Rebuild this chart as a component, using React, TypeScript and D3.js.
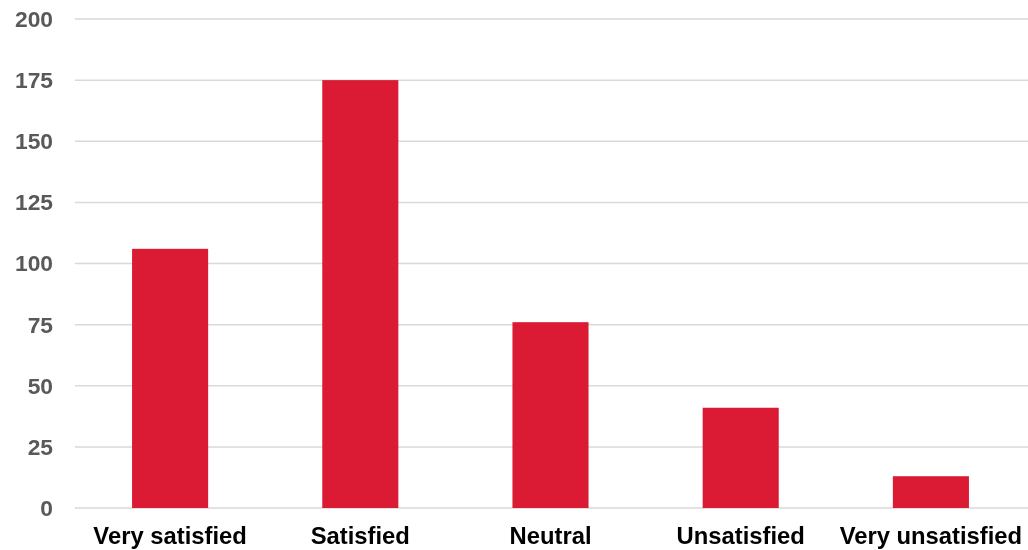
import { useEffect, useRef } from "react";
import * as d3 from "d3";

const categories = ["Very satisfied", "Satisfied", "Neutral", "Unsatisfied", "Very unsatisfied"];
const values = [106, 175, 76, 41, 13];
const yTicks = [0, 25, 50, 75, 100, 125, 150, 175, 200];

export default function App() {
  const ref = useRef<SVGSVGElement>(null);

  useEffect(() => {
    if (!ref.current) return;
    const w = 1028,
      h = 550,
      margin = { top: 19, right: 2, bottom: 42, left: 75 };

    const svg = d3.select(ref.current);
    svg.selectAll("*").remove();
    svg.attr("width", w).attr("height", h).style("display", "block");

    const x = d3
      .scaleBand<string>()
      .domain(categories)
      .range([margin.left, w - margin.right])
      .paddingInner(0.6)
      .paddingOuter(0.3);
    const y = d3.scaleLinear().domain([0, 200]).range([h - margin.bottom, margin.top]);

    const font = "'Liberation Sans', Arial, sans-serif";

    svg
      .append("g")
      .selectAll("line")
      .data(yTicks)
      .join("line")
      .attr("x1", margin.left)
      .attr("x2", w)
      .attr("y1", (d) => y(d))
      .attr("y2", (d) => y(d))
      .attr("stroke", "#d9d9d9")
      .attr("stroke-width", 1.5);

    svg
      .append("g")
      .selectAll("text")
      .data(yTicks)
      .join("text")
      .attr("x", 53)
      .attr("y", (d) => y(d))
      .attr("dy", "0.35em")
      .attr("text-anchor", "end")
      .attr("fill", "#595959")
      .attr("font-family", font)
      .attr("font-weight", "bold")
      .attr("font-size", 22.8)
      .text((d) => d);

    svg
      .append("g")
      .selectAll("rect")
      .data(values)
      .join("rect")
      .attr("x", (_, i) => x(categories[i])!)
      .attr("width", x.bandwidth())
      .attr("y", (d) => y(d))
      .attr("height", (d) => y(0) - y(d))
      .attr("fill", "#db1a34");

    svg
      .append("g")
      .selectAll("text")
      .data(categories)
      .join("text")
      .attr("x", (d) => x(d)! + x.bandwidth() / 2)
      .attr("y", 544)
      .attr("text-anchor", "middle")
      .attr("fill", "#000")
      .attr("font-family", font)
      .attr("font-weight", "bold")
      .attr("font-size", 23.8)
      .text((d) => d);
  }, []);

  return (
    <div style={{ position: "fixed", left: 0, top: 0, width: 1028, height: 550 }}>
      <svg ref={ref} />
    </div>
  );
}
